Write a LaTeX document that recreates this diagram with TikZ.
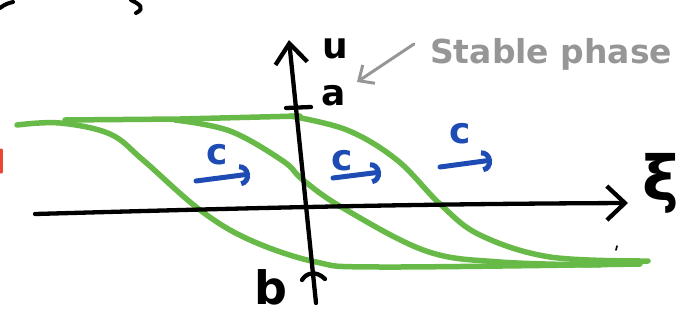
\documentclass[tikz,border=0pt]{standalone}
\usepackage{fontspec}
\setmainfont{DejaVu Sans}
\usetikzlibrary{arrows.meta}
\definecolor{sgreen}{RGB}{104,186,72}
\definecolor{sblue}{RGB}{30,76,180}
\definecolor{sgray}{RGB}{150,150,150}
\definecolor{sred}{RGB}{235,70,50}
\begin{document}
\begin{tikzpicture}[x=1pt,y=-1pt,line cap=round,line join=round,
  axis/.style={line width=4.3pt,black},
  front/.style={line width=5.5pt,sgreen},
  vel/.style={line width=5pt,sblue,-{Arc Barb[length=10pt,width=22pt]}},
  lbl/.style={inner sep=0pt,anchor=base,font=\fontsize{36}{36}\selectfont\bfseries},
  clbl/.style={lbl,text=sblue}]
\useasboundingbox (0,0) rectangle (686,322);

% cropped fragments at the edges
\draw[line width=4pt] (0,8) .. controls (5,4) and (9,3) .. (13,2);
\draw[line width=4pt] (131,0) .. controls (139,4) and (146,8) .. (136,13);
\draw[sred,line width=3pt] (1,150) -- (1,172);
\draw[line width=1.6pt] (616,250) -- (617,246);

% green fronts
\draw[front] plot[smooth,tension=0.6] coordinates {(17,125) (60,123) (110,134) (143,160) (200,210) (250,240) (316,262) (380,267) (640,264)};
\draw[front] (65,120) -- (180,119) -- (300,116);
\draw[front] plot[smooth,tension=0.6] coordinates {(175,120) (230,131) (283,161) (303,180) (343,208) (426,251) (500,262) (600,265)};
\draw[front] plot[smooth,tension=0.6] coordinates {(290,116) (347,130) (397,160) (440,204) (480,235) (550,257) (648,261)};

% axes
\coordinate (yb) at (316,303);
\coordinate (yt) at (289,40);
\coordinate (xl) at (35,214);
\coordinate (xr) at (628,203);
\draw[axis,-{Straight Barb[length=20pt,width=32pt]}] (yb) -- (yt);
\draw[axis,-{Straight Barb[length=18pt,width=34pt]}] (xl) .. controls (250,208) and (400,204) .. (xr);
\coordinate (ta1) at (286,108);
\coordinate (ta2) at (311,107);
\draw[axis] (ta1) -- (ta2);
\coordinate (tb1) at (302,280);
\coordinate (tb2) at (325,279);
\draw[axis] (tb1) .. controls (306,273) and (316,270) .. (tb2);

% labels
\node[lbl] (u) at (335,58) {u};
\node[lbl] (a) at (334,105) {a};
\node[lbl,font=\fontsize{46}{46}\selectfont\bfseries] (b) at (271,304) {b};
\node[lbl,font=\fontsize{62}{62}\selectfont\bfseries] (xi) at (661,200) {ξ};

% wave speeds
\node[clbl] (c1) at (217,164) {c};
\node[clbl] (c2) at (342,170) {c};
\node[clbl] (c3) at (460,143) {c};
\coordinate (v1s) at (196,181);
\coordinate (v1e) at (250,174);
\coordinate (v2s) at (333,178);
\coordinate (v2e) at (381,172);
\coordinate (v3s) at (440,167);
\coordinate (v3e) at (492,160);
\draw[vel] (v1s) -- (v1e);
\draw[vel] (v2s) -- (v2e);
\draw[vel] (v3s) -- (v3e);

% annotation
\node[inner sep=0pt,anchor=base west,text=sgray,font=\fontsize{33}{33}\selectfont\bfseries] (sp) at (430,63) {Stable phase};
\coordinate (ga) at (414,44);
\coordinate (gb) at (357,82);
\draw[sgray,line width=3pt,-{Straight Barb[length=12pt,width=22pt]}] (ga) -- (gb);
\end{tikzpicture}
\end{document}
